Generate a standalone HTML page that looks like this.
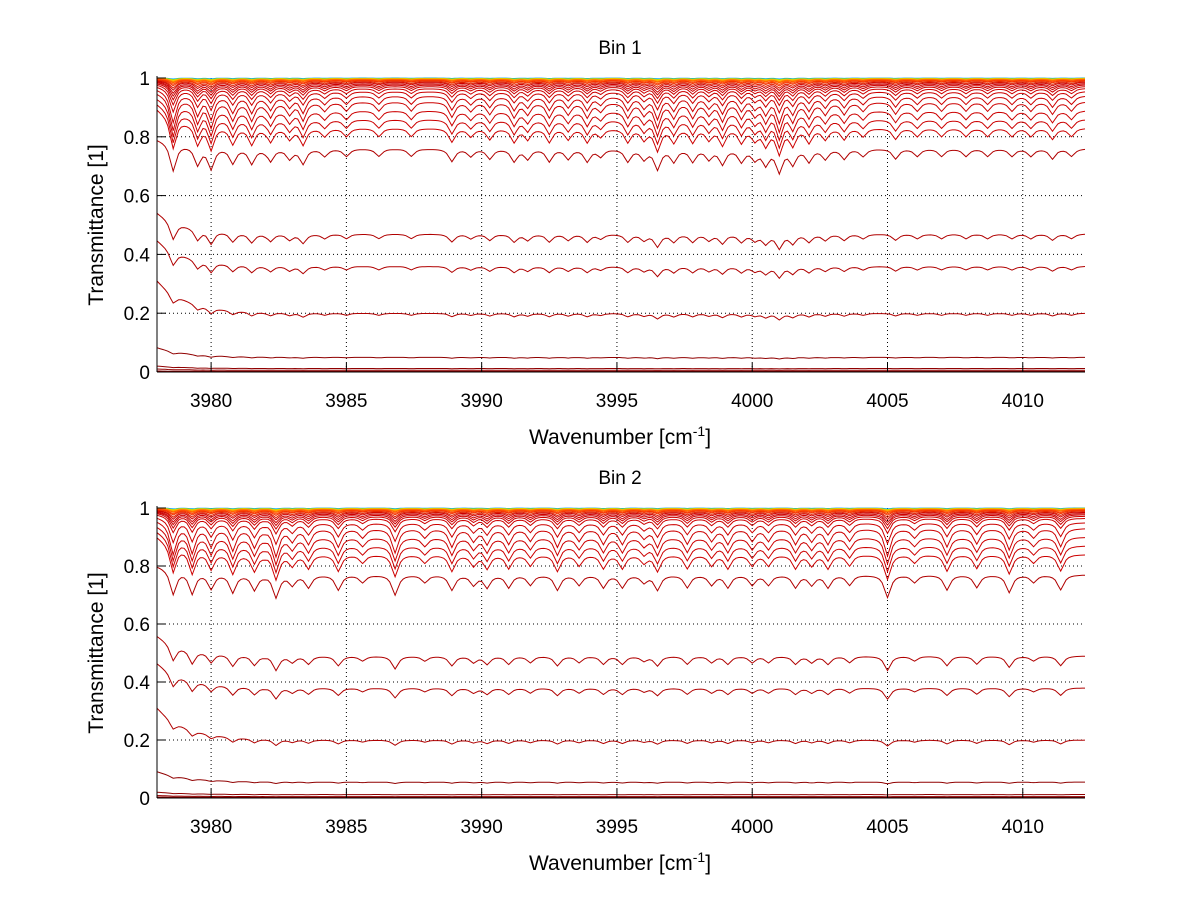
<!DOCTYPE html>
<html><head><meta charset="utf-8"><style>
body{margin:0;background:#fff}
svg{display:block;font-family:"Liberation Sans",sans-serif}
</style></head><body>
<svg id="chart" width="1200" height="901" viewBox="0 0 1200 901" xmlns="http://www.w3.org/2000/svg"></svg>
<script>
// ---- data ----
const xTicks = [3980,3985,3990,3995,4000,4005,4010];
const yTicks = [0,0.2,0.4,0.6,0.8,1];
const yTickLabels = ["0","0.2","0.4","0.6","0.8","1"];
const bin1Lines = [3978.6,3979.5,3980.0,3980.8,3981.5,3982.2,3982.9,3983.4,3984.2,3985.0,3986.2,3987.4,3988.9,3989.6,3990.3,3991.2,3991.7,3992.5,3993.2,3993.9,3994.4,3995.4,3996.0,3996.5,3997.1,3997.8,3998.4,3998.9,3999.6,4000.1,4000.5,4001.0,4001.5,4002.1,4002.7,4003.4,4004.1,4005.3,4006.1,4007.0,4007.9,4008.7,4009.6,4010.3,4011.1,4011.8];
const bin1Depth = [0.9,0.6,0.7,0.5,0.5,0.5,0.4,0.6,0.3,0.3,0.3,0.3,0.5,0.3,0.4,0.5,0.4,0.5,0.4,0.5,0.3,0.5,0.4,0.8,0.5,0.5,0.4,0.6,0.5,0.4,0.6,0.9,0.6,0.5,0.4,0.4,0.3,0.4,0.3,0.3,0.3,0.3,0.3,0.3,0.4,0.3];
const bin2Lines = [3978.6,3979.3,3980.0,3980.8,3981.6,3982.4,3983.0,3983.6,3984.7,3985.6,3986.8,3987.9,3988.9,3989.7,3990.2,3991.0,3991.8,3992.8,3993.6,3994.5,3995.2,3996.0,3996.5,3997.6,3998.5,3999.1,4000.0,4000.6,4001.6,4002.2,4002.8,4003.6,4005.0,4006.0,4007.2,4008.3,4009.5,4010.4,4011.4];
const bin2Depth = [0.8,0.7,0.5,0.6,0.5,0.9,0.4,0.5,0.6,0.3,0.8,0.3,0.6,0.4,0.5,0.5,0.4,0.6,0.4,0.5,0.5,0.3,0.6,0.5,0.4,0.5,0.4,0.4,0.5,0.4,0.5,0.4,0.9,0.3,0.6,0.5,0.7,0.3,0.6];
const bin1Levels = [1.0,0.999,0.998,0.997,0.996,0.995,0.993,0.991,0.988,0.985,0.981,0.977,0.972,0.965,0.955,0.94,0.92,0.89,0.86,0.83,0.76,0.47,0.36,0.20,0.05,0.012,0.006,0.002];
const bin2Levels = [1.0,0.999,0.998,0.997,0.996,0.995,0.993,0.991,0.988,0.985,0.981,0.977,0.972,0.965,0.95,0.93,0.90,0.87,0.84,0.77,0.49,0.38,0.20,0.055,0.012,0.005,0.002];
const curveColors = ["#00a0ff","#a0e000","#f0d000","#ffa000","#ff8000","#ff6000","#ff4000","#f03000","#e02000"];

const NS="http://www.w3.org/2000/svg";
const svg=document.getElementById('chart');
function mk(t,a,p){const e=document.createElementNS(NS,t);for(const k in a)e.setAttribute(k,a[k]);(p||svg).appendChild(e);return e;}

const X0=3978,X1=4012.3,L=157,R=1085;
function xs(v){return L+(v-X0)/(X1-X0)*(R-L);}

function drawPanel(idx,top,bottom,title,lines,depth,levels){
  const g=mk('g',{});
  
  
  const ys=v=>bottom-v*(bottom-top);
  xTicks.forEach(t=>{const l=mk('line',{x1:xs(t),x2:xs(t),y1:top,y2:bottom,stroke:'#000','stroke-width':1,'stroke-dasharray':'1,3'},g);
    });
  yTicks.forEach(t=>{if(t>0&&t<1){const l=mk('line',{x1:L,x2:R,y1:ys(t),y2:ys(t),stroke:'#000','stroke-width':1,'stroke-dasharray':'1,3'},g);
    }});
  function absorb(x){let s=0;for(let i=0;i<lines.length;i++){const d=(x-lines[i])/0.2;s+=depth[i]/(1+d*d*2);}return Math.min(s,1.3);}
  for(let c=0;c<levels.length;c++){
    const b=levels[c];
    const f=b<0.8?0.14:Math.min(0.14,(1-b)*2+0.004);
    let d='';
    for(let x=X0;x<=X1+0.001;x+=0.1){
      let base=b+0.07*Math.min(1,b*5)*(1-b)*2*Math.exp(-(x-X0)/1.2);
      if(b>0.8) base=b+(1-b)*0.4*Math.exp(-(x-X0)/1.0);
      const early=x<3982?1.2:1;
      let v=base*(1-f*absorb(x)*early*0.8);
      v=Math.min(v,1);
      d+=(d?'L':'M')+xs(x).toFixed(1)+','+ys(v).toFixed(1);
    }
    const col=c<curveColors.length?curveColors[c]:(b<0.1?'#900000':(b<0.8?'#b00000':'#cc0000'));
    const p=mk('path',{d:d,fill:'none',stroke:col,'stroke-width':1},g);
    
    
  }
  const ax=mk('line',{x1:L,x2:L,y1:top-2,y2:bottom,stroke:'#000','stroke-width':1},g);
  
  const bx=mk('line',{x1:L,x2:R,y1:bottom,y2:bottom,stroke:'#000','stroke-width':1},g);
  
  xTicks.forEach(t=>{mk('line',{x1:xs(t),x2:xs(t),y1:bottom,y2:bottom-9,stroke:'#000'},g);
    const tx=mk('text',{x:xs(t),y:bottom+35,'font-size':19,'text-anchor':'middle'},g);tx.textContent=t;
    });
  yTicks.forEach((t,i)=>{mk('line',{x1:L,x2:L+9,y1:ys(t),y2:ys(t),stroke:'#000'},g);
    const tx=mk('text',{x:L-7,y:ys(t)+7,'font-size':19,'text-anchor':'end'},g);tx.textContent=yTickLabels[i];
    });
  const ti=mk('text',{x:620,y:top-24,'font-size':19,'text-anchor':'middle'},g);ti.textContent=title;
  
  const yl=mk('text',{x:0,y:0,'font-size':21,'text-anchor':'middle',transform:'translate(103,'+((top+bottom)/2)+') rotate(-90)'},g);yl.textContent='Transmittance [1]';
  
  const xl=mk('text',{x:620,y:bottom+72,'font-size':21,'text-anchor':'middle'},g);
  xl.innerHTML='Wavenumber [cm<tspan dy="-8" font-size="14">-1</tspan><tspan dy="8">]</tspan>';
  
}
drawPanel(1,78,372,'Bin 1',bin1Lines,bin1Depth,bin1Levels);
drawPanel(2,508,798,'Bin 2',bin2Lines,bin2Depth,bin2Levels);
</script>
</body></html>
